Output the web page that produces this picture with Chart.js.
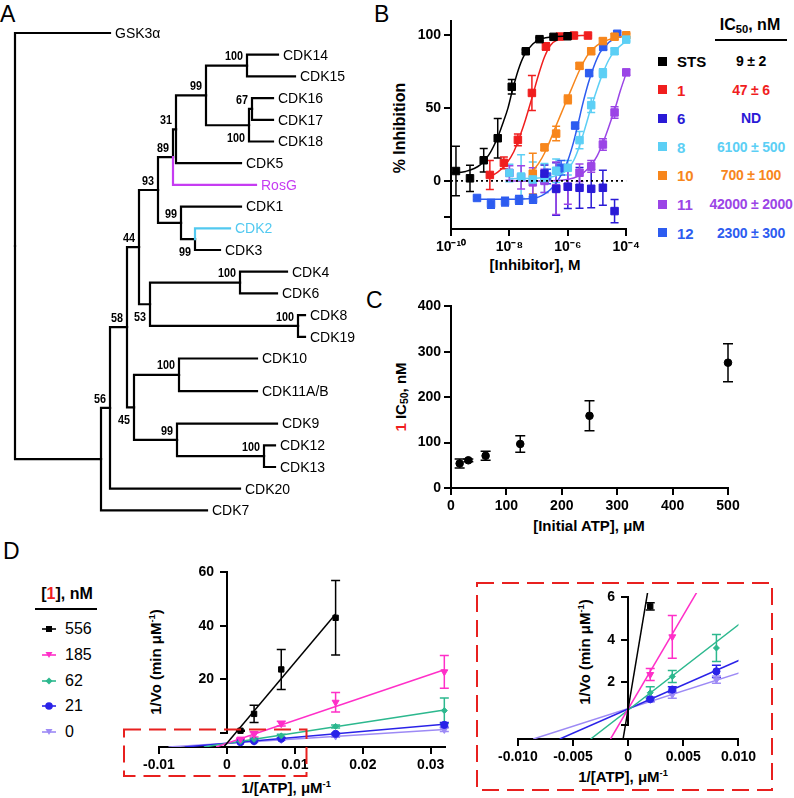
<!DOCTYPE html>
<html><head><meta charset="utf-8">
<script src="https://cdn.jsdelivr.net/npm/chart.js@4.4.1/dist/chart.umd.min.js"></script>
<style>
html,body{margin:0;padding:0;background:#fff;}
body{width:794px;height:798px;position:relative;overflow:hidden;font-family:"Liberation Sans",Arial,sans-serif;color:#000;}
canvas{position:absolute;}
.t{position:absolute;white-space:nowrap;line-height:1;}
.b{font-weight:bold;}
.rot{transform:translate(-50%,-50%) rotate(-90deg);}
.ctr{transform:translate(-50%,-50%);}
.lft{transform:translate(0,-50%);}
sub{font-size:70%;vertical-align:-0.25em;line-height:0;}
sup{font-size:62%;vertical-align:0.6em;line-height:0;}
</style></head><body>
<div class="t" style="left:0;top:3px;font-size:23px">A</div>
<div class="t" style="left:374px;top:3px;font-size:23px">B</div>
<div class="t" style="left:366px;top:289px;font-size:23px">C</div>
<div class="t" style="left:3px;top:540px;font-size:23px">D</div>

<div class="t b rot" style="left:400px;top:128px;font-size:16px">% Inhibition</div>
<div class="t b ctr" style="left:535px;top:264px;font-size:15px">[Inhibitor], M</div>
<div class="t b ctr" style="left:750px;top:25px;font-size:16px">IC<sub>50</sub>, nM</div>
<div style="position:absolute;left:715px;top:39px;width:72px;height:1.5px;background:#000"></div>
<div id="bleg"></div>

<div class="t b rot" style="left:400px;top:397px;font-size:15px"><span style="color:#f01e1e">1</span> IC<sub>50</sub>, nM</div>
<div class="t b ctr" style="left:589px;top:525px;font-size:15px">[Initial ATP], μM</div>

<div class="t b ctr" style="left:67px;top:594px;font-size:16px">[<span style="color:#f01e1e">1</span>], nM</div>
<div style="position:absolute;left:35px;top:608px;width:62px;height:1.5px;background:#000"></div>
<div id="dleg"></div>
<div class="t b rot" style="left:155px;top:662px;font-size:15px">1/Vo (min μM<sup>-1</sup>)</div>
<div class="t b ctr" style="left:286px;top:787px;font-size:15px">1/[ATP], μM<sup>-1</sup></div>
<div class="t b rot" style="left:584px;top:652px;font-size:15px">1/Vo (min μM<sup>-1</sup>)</div>
<div class="t b ctr" style="left:623px;top:776px;font-size:15px">1/[ATP], μM<sup>-1</sup></div>

<svg style="position:absolute;left:0;top:0;z-index:5;pointer-events:none" width="794" height="798">
<rect x="124" y="729.5" width="182.5" height="46.5" fill="none" stroke="#e8201f" stroke-width="2" stroke-dasharray="17 8"/>
<rect x="477" y="583" width="295" height="207" fill="none" stroke="#e8201f" stroke-width="2" stroke-dasharray="17 8"/>
</svg>

<script>
// ---------------- DATA ----------------
// Panel A: phylogenetic tree (node table)
const treeName   = ['','GSK3α','','CDK7','','CDK20','','','','','','','','','RosG','','CDK5','','','CDK14','CDK15','','CDK18','CDK16','CDK17','CDK1','','CDK2','CDK3','','','CDK4','CDK6','CDK8','CDK19','','','CDK10','CDK11A/B','CDK9','','CDK12','CDK13'];
const treeParent = [-1,0,0,2,2,4,4,6,6,7,7,9,9,11,11,13,13,15,15,17,17,18,18,21,21,12,12,26,26,10,10,29,29,30,30,8,8,35,35,36,36,40,40];
const treeDepth  = [0,95,86,192,95,225,112,124,119,143,135,158,166,161,241,191,226,232,234,263,280,237,258,258,258,226,180,215,205,225,283,272,262,290,290,164,162,242,242,262,249,260,260];
const treeRow    = [null,0,null,22,null,21,null,null,null,null,null,null,null,null,7,null,6,null,null,1,2,null,5,3,4,8,null,9,10,null,null,11,12,13,14,null,null,15,16.5,18,null,19,20];
const treeBoot   = [null,null,null,null,56,null,58,44,45,93,53,89,99,31,null,99,null,100,100,null,null,67,null,null,null,null,99,null,null,100,100,null,null,null,null,100,99,null,null,null,100,null,null];
const treeBootBelow = [8,10,18,26];
const treeHighlight = {'RosG':'#c63cf2','CDK2':'#52c9f0'};

// Panel B: dose response (log10 [inhibitor], M ; % inhibition)
const bNames  = ['STS','1','6','8','10','11','12'];
const bIC50   = ['9 ± 2','47 ± 6','ND','6100 ± 500','700 ± 100','42000 ± 2000','2300 ± 300'];
const bLogSTS = [-9.83,-9.35,-8.88,-8.40,-7.92,-7.44,-6.97,-6.49,-6.01];
const bSTS    = [6.8,1.8,14.2,29.3,64.6,89,97.3,98.9,99.3];
const bSTSsd  = [17,9,8,13.5,5,1,1,0.5,0.5];
const bLog1   = [-8.67,-8.19,-7.71,-7.23,-6.75,-6.27,-5.79,-5.31];
const b1      = [4.1,12.4,28.2,60.4,92.3,99.1,99.8,99.8];
const b1sd    = [10,4,4,12,2.5,0.5,0.5,0];
const bLog6   = [-6.8,-6.4,-6.0,-5.6,-5.2,-4.8,-4.4];
const b6      = [5,-5.5,-4,-4.7,-5.4,-4.7,-20.7];
const b6sd    = [6,18,15,14,13,12,8];
const bLog8   = [-8.0,-7.6,-7.2,-6.8,-6.4,-6.0,-5.6,-5.2,-4.8,-4.4,-4.0];
const b8      = [5.5,3,1,2,7,9,28,52,74,89,97];
const b8sd    = [6,15,12,10,8,5,6,5,3,2,1];
const bLog10  = [-7.2,-6.8,-6.4,-6.0,-5.6,-5.2,-4.8,-4.4,-4.0];
const b10     = [5,23,32.5,56,79,89,96,99,100];
const b10sd   = [14,2,5,3,2,2,2,2,1];
const bLog11  = [-8.0,-7.6,-7.2,-6.8,-6.4,-6.0,-5.6,-5.2,-4.8,-4.4,-4.0];
const b11     = [5.5,2.5,-1,0,-5,-4,5.6,10,25,47,74.5];
const b11sd   = [5,8,10,8,18,12,6,4,4,4,2];
const bLog12  = [-9.11,-8.63,-8.15,-7.67,-7.19,-6.71,-6.23,-5.75,-5.27,-4.79,-4.31];
const b12     = [-11.7,-15.8,-14.2,-13,-12.4,3,9,38,74,92,101];
const b12sd   = [1,3,3,3,3,5,5,2,2,2,1];
// fitted curves
const fitSTSx = [-10,-9.5,-9.0,-8.7,-8.4,-8.2,-8.05,-7.9,-7.7,-7.5,-7.2,-6.9,-6.5,-6.0];
const fitSTSy = [5.5,6.5,11,18,30,41,50,62,76,86,94,97.5,99,99.5];
const fit1x   = [-8.67,-8.4,-8.1,-7.85,-7.6,-7.45,-7.33,-7.2,-7.0,-6.8,-6.6,-6.3,-6.0,-5.31];
const fit1y   = [3,6,12,20,33,42,50,59,73,85,93,97.5,99,100];
const fit8x   = [-8.0,-7.0,-6.5,-6.2,-6.0,-5.8,-5.6,-5.4,-5.21,-5.0,-4.8,-4.6,-4.4,-4.0];
const fit8y   = [1.5,2,3,5,8,14,24,37,50,63,74,83,89,96];
const fit10x  = [-7.2,-7.0,-6.8,-6.6,-6.4,-6.15,-5.9,-5.6,-5.3,-5.0,-4.6,-4.0];
const fit10y  = [7,12,19,28,38,50,62,76,87,93,97,99.5];
const fit11x  = [-8.0,-7.0,-6.2,-5.8,-5.5,-5.2,-5.0,-4.8,-4.6,-4.38,-4.2,-4.0];
const fit11y  = [0,0,0.5,2,5,11,17,26,37,50,62,74];
const fit12x  = [-9.11,-8.0,-7.2,-6.8,-6.5,-6.2,-6.0,-5.8,-5.64,-5.5,-5.3,-5.1,-4.9,-4.6,-4.31];
const fit12y  = [-12.5,-12.5,-12,-9,-4,5,14,27,40,52,67,79,88,95,99];

// Panel C
const cATP  = [15.6,31.25,62.5,125,250,500];
const cIC50 = [54,61,71,97,159,276];
const cSD   = [10,3,10,18,33,42];

// Panel D: Lineweaver-Burk (1/[ATP], 1/Vo) for [1] = 556,185,62,21,0 nM
const dConc = ['556','185','62','21','0'];
const dX    = [0.002,0.004,0.008,0.016,0.032];
const d556  = [5.45,11.1,26,43.3,null];
const d556sd= [0.15,2.9,6.7,12.5,null];
const d185  = [2.65,4.2,7.8,15,25.2];
const d185sd= [0.25,0.88,0.8,3.3,5.5];
const d62   = [1.9,2.57,3.74,6.9,12.2];
const d62sd = [0.25,0.25,0.55,0.5,4.2];
const d21   = [1.64,2.03,2.78,4.4,7.4];
const d21sd = [0.08,0.12,0.25,0.3,0.8];
const d0    = [1.62,1.82,2.44,3.6,5.8];
const d0sd  = [0.1,0.15,0.15,0.3,0.6];
const dFitXInt = [-0.00046,-0.0016,-0.0034,-0.0062,-0.0086];
const dFitXEnd = [0.016,0.032,0.032,0.032,0.032];
const dFitYEnd = [44.6,25.9,12.4,7.6,5.9];

// ---------------- STYLE ----------------
const bColors = ['#000000','#f01e1e','#2a1ad6','#5ccff5','#f7861c','#9b45e6','#2d5cf0'];
const dColors = ['#000000','#ff2fc8','#2cb88e','#2a22e8','#9d8af5'];
const dShapes = ['rect','triangle','rectRot','circle','triangle'];
const dRot    = [0,180,0,0,180];
const dRad    = [3.8,4,3,3.6,3.8];

Chart.defaults.font.family = '"Liberation Sans", Arial, sans-serif';
Chart.defaults.color = '#000';

const errPlugin = {
  id:'errbars',
  beforeDatasetsDraw(chart){
    const ctx = chart.ctx, xs = chart.scales.x, ys = chart.scales.y;
    chart.data.datasets.forEach((ds,i)=>{
      if(!ds.errors) return;
      ctx.save(); ctx.strokeStyle = ds.borderColor; ctx.lineWidth = ds.errWidth||1.5;
      const cap = ds.cap||4;
      ds.data.forEach((p,j)=>{
        const e = ds.errors[j];
        if(e==null || p.y==null) return;
        if(p.x<xs.min||p.x>xs.max||p.y<ys.min||p.y>ys.max) return;
        const px = xs.getPixelForValue(p.x);
        const y1 = ys.getPixelForValue(Math.min(p.y+e, ys.max)), y2 = ys.getPixelForValue(p.y-e);
        ctx.beginPath(); ctx.moveTo(px,y1); ctx.lineTo(px,y2);
        if(p.y+e<=ys.max){ctx.moveTo(px-cap,y1); ctx.lineTo(px+cap,y1);}
        ctx.moveTo(px-cap,y2); ctx.lineTo(px+cap,y2); ctx.stroke();
      });
      ctx.restore();
    });
  }
};

function pts(xs, ys){ return xs.map((x,i)=>({x:x,y:ys[i]})).filter(p=>p.y!=null); }
const TF = {color:'#000',font:{size:14,weight:'bold'},padding:3,autoSkip:false,maxRotation:0};
function axisStyle(extra, tickExtra){
  return Object.assign({
    grid:{display:true,drawOnChartArea:false,drawTicks:true,tickLength:7,color:'#000',lineWidth:2},
    border:{display:true,color:'#000',width:2},
    ticks:Object.assign({},TF,tickExtra||{})
  }, extra);
}
function mk(area, m, cfg){
  const c = document.createElement('canvas');
  const W = Math.round(area.R-area.L+m.l+m.r), H = Math.round(area.B-area.T+m.t+m.b);
  c.width=W; c.height=H; c.style.width=W+'px'; c.style.height=H+'px';
  c.style.left=(area.L-m.l)+'px'; c.style.top=(area.T-m.t)+'px';
  document.body.appendChild(c);
  cfg.options = cfg.options||{};
  cfg.options.responsive=false; cfg.options.animation=false; cfg.options.devicePixelRatio=1;
  cfg.options.plugins = Object.assign({legend:{display:false},tooltip:{enabled:false}}, cfg.options.plugins||{});
  const sc = cfg.options.scales||{};
  const yShown = sc.y && sc.y.display!==false;
  const xShown = sc.x && sc.x.display!==false;
  cfg.options.layout={padding:{left:yShown?0:m.l,right:m.r,top:m.t,bottom:xShown?0:m.b}};
  if(xShown) sc.x.afterFit = s=>{s.height=m.b;};
  if(yShown) sc.y.afterFit = s=>{s.width=m.l;};
  const ch = new Chart(c, cfg);
  ch.$left = area.L-m.l; ch.$top = area.T-m.t;
  return ch;
}
function fixedTicks(vals){ return s=>{ s.ticks = vals.map(v=>({value:v})); }; }

// ---------------- PANEL A: tree ----------------
(function(){
  const ds = [];
  const yOf = i=>{
    if(treeRow[i]!=null) return treeRow[i];
    const ch = treeParent.map((p,k)=>p===i?k:-1).filter(k=>k>=0);
    return ch.reduce((a,k)=>a+yOf(k),0)/ch.length;
  };
  const Y = treeName.map((_,i)=>yOf(i));
  const colorOf = i=> treeHighlight[treeName[i]]||'#000';
  treeParent.forEach((p,i)=>{
    if(p<0) return;
    ds.push({type:'line',data:[{x:treeDepth[p],y:Y[p]},{x:treeDepth[p],y:Y[i]},{x:treeDepth[i],y:Y[i]}],
      borderColor:colorOf(i),borderWidth:2.2,pointRadius:0,fill:false,tension:0,borderCapStyle:'square',borderJoinStyle:'miter',order: colorOf(i)==='#000'?2:1});
  });
  const labelPlugin = {id:'treelabels', afterDatasetsDraw(chart){
    const ctx=chart.ctx, xs=chart.scales.x, ys=chart.scales.y;
    ctx.save(); ctx.textBaseline='middle';
    treeName.forEach((n,i)=>{
      const px=xs.getPixelForValue(treeDepth[i]), py=ys.getPixelForValue(Y[i]);
      if(n){ ctx.font='14px "Liberation Sans", Arial, sans-serif'; ctx.fillStyle=colorOf(i); ctx.textAlign='left'; ctx.fillText(n,px+5,py+1); }
      if(treeBoot[i]!=null){
        const below = treeBootBelow.includes(i);
        ctx.font='bold 13.5px "Liberation Sans", Arial, sans-serif'; ctx.fillStyle='#000'; ctx.textAlign='right';
        ctx.save(); ctx.translate(px-4, py+(below?13:-9)); ctx.scale(0.8,1); ctx.fillText(String(treeBoot[i]),0,0); ctx.restore();
      }
    });
    ctx.restore();
  }};
  mk({L:0,R:380,T:0,B:530},{l:0,r:0,t:0,b:0},{
    type:'scatter', data:{datasets:ds},
    options:{scales:{
      x:{type:'linear',display:false,min:-15,max:365},
      y:{type:'linear',display:false,reverse:true,min:-33/21.7,max:(530-33)/21.7}
    }},
    plugins:[labelPlugin]
  });
})();

// ---------------- PANEL B ----------------
(function(){
  const series = [
    [bLogSTS,bSTS,bSTSsd,fitSTSx,fitSTSy],
    [bLog1,b1,b1sd,fit1x,fit1y],
    [bLog6,b6,b6sd,null,null],
    [bLog8,b8,b8sd,fit8x,fit8y],
    [bLog10,b10,b10sd,fit10x,fit10y],
    [bLog11,b11,b11sd,fit11x,fit11y],
    [bLog12,b12,b12sd,fit12x,fit12y]
  ];
  const ds=[{type:'line',data:[{x:-10,y:0},{x:-4,y:0}],borderColor:'#000',borderWidth:1.6,borderDash:[2,3],pointRadius:0}];
  series.forEach((s,i)=>{
    if(s[3]) ds.push({type:'line',data:pts(s[3],s[4]),borderColor:bColors[i],borderWidth:1.5,pointRadius:0,cubicInterpolationMode:'monotone'});
    ds.push({type:'scatter',data:pts(s[0],s[1]),errors:s[2],cap:4,errWidth:1.5,borderColor:bColors[i],backgroundColor:bColors[i],
      pointStyle:'rect',pointRadius:5.3,borderWidth:1,clip:false});
  });
  const sup = {'-10':'10⁻¹⁰','-8':'10⁻⁸','-6':'10⁻⁶','-4':'10⁻⁴'};
  mk({L:451,R:631,T:18,B:229},{l:50,r:12,t:8,b:30},{
    type:'scatter', data:{datasets:ds},
    options:{scales:{
      x:axisStyle({type:'linear',min:-10,max:-4,afterBuildTicks:fixedTicks([-10,-8,-6,-4])},{callback:v=>sup[String(v)]||''}),
      y:axisStyle({type:'linear',min:-33,max:109.5,afterBuildTicks:fixedTicks([-25,0,50,100])},{callback:v=>v<0?'':String(v)})
    }},
    plugins:[errPlugin]
  });
  const lg=document.getElementById('bleg');
  bNames.forEach((n,i)=>{
    const y=61+i*28.6;
    lg.insertAdjacentHTML('beforeend',
      `<div style="position:absolute;left:658px;top:${y-4.5}px;width:9px;height:9px;background:${bColors[i]}"></div>`+
      `<div class="t b lft" style="left:677px;top:${y}px;font-size:15px;color:${bColors[i]}">${n}</div>`+
      `<div class="t b ctr" style="left:751px;top:${y}px;font-size:14px;letter-spacing:-0.2px;color:${bColors[i]}">${bIC50[i]}</div>`);
  });
})();

// ---------------- PANEL C ----------------
mk({L:451,R:728,T:303,B:488},{l:50,r:15,t:8,b:24},{
  type:'scatter',
  data:{datasets:[{data:pts(cATP,cIC50),errors:cSD,cap:5,errWidth:1.5,borderColor:'#000',backgroundColor:'#000',pointRadius:3.8,clip:false}]},
  options:{scales:{
    x:axisStyle({type:'linear',min:0,max:500},{stepSize:100}),
    y:axisStyle({type:'linear',min:0,max:400},{stepSize:100})
  }},
  plugins:[errPlugin]
});

// ---------------- PANEL D ----------------
function dDatasets(clipPts){
  const vals=[d556,d185,d62,d21,d0], sds=[d556sd,d185sd,d62sd,d21sd,d0sd];
  const ds=[];
  vals.forEach((v,i)=>{
    ds.push({type:'line',data:[{x:dFitXInt[i],y:0},{x:dFitXEnd[i],y:dFitYEnd[i]}],borderColor:dColors[i],borderWidth:1.5,pointRadius:0,order:2});
    ds.push({type:'scatter',data:pts(dX,v),errors:sds[i],cap:4.5,errWidth:1.5,borderColor:dColors[i],backgroundColor:dColors[i],
      pointStyle:dShapes[i],rotation:dRot[i],pointRadius:dRad[i],borderWidth:1,clip:clipPts?undefined:false,order:1});
  });
  return ds;
}
// y axis drawn by a second chart whose plot area starts at x = 0 of the main chart
function yAxisAt(mainChart, area, yMin, yMax, yTicks, m){
  const x0 = Math.round(mainChart.$left + mainChart.scales.x.getPixelForValue(0));
  return mk({L:x0,R:area.R,T:area.T,B:area.B},m,{
    type:'scatter', data:{datasets:[]},
    options:{scales:{
      x:{type:'linear',display:false,min:0,max:1},
      y:axisStyle({type:'linear',min:yMin,max:yMax,afterBuildTicks:fixedTicks(yTicks)},{padding:6,callback:v=>v===0?'':String(v)})
    }}
  });
}
const dArea = {L:146,R:445,T:568,B:747};
const dMain = mk(dArea,{l:6,r:12,t:10,b:26},{
  type:'scatter', data:{datasets:dDatasets(false)},
  options:{scales:{
    x:axisStyle({type:'linear',min:-0.01,max:0.0321,afterBuildTicks:fixedTicks([-0.01,0,0.01,0.02,0.03])},{callback:v=>v===0?'0':(Math.round(v*100)/100).toString()}),
    y:{type:'linear',display:false,min:0,max:60}
  }},
  plugins:[errPlugin]
});
yAxisAt(dMain, dArea, 0, 60, [0,20,40,60], {l:40,r:0,t:10,b:0});

const iArea = {L:501,R:747,T:593,B:739};
const dInset = mk(iArea,{l:6,r:12,t:10,b:26},{
  type:'scatter', data:{datasets:dDatasets(true)},
  options:{scales:{
    x:axisStyle({type:'linear',min:-0.01,max:0.01,afterBuildTicks:fixedTicks([-0.01,-0.005,0,0.005,0.01])},{callback:v=>v===0?'0':v.toFixed(3)}),
    y:{type:'linear',display:false,min:0,max:6}
  }},
  plugins:[errPlugin]
});
yAxisAt(dInset, iArea, 0, 6, [0,2,4,6], {l:30,r:0,t:10,b:0});

// D legend
(function(){
  const lg=document.getElementById('dleg');
  dConc.forEach((n,i)=>{
    const y=629+i*25.8;
    const c=dColors[i]; let mark='';
    if(dShapes[i]==='rect') mark=`<rect x="10" y="3" width="6" height="6" fill="${c}"/>`;
    else if(dShapes[i]==='triangle') mark=`<polygon points="9.5,3 16.5,3 13,9" fill="${c}"/>`;
    else if(dShapes[i]==='rectRot') mark=`<polygon points="13,2.5 16.5,6 13,9.5 9.5,6" fill="${c}"/>`;
    else mark=`<circle cx="13" cy="6" r="3.8" fill="${c}"/>`;
    lg.insertAdjacentHTML('beforeend',
      `<svg style="position:absolute;left:36px;top:${y-6}px" width="26" height="12"><line x1="6" y1="6" x2="20" y2="6" stroke="${c}" stroke-width="1.6"/>${mark}</svg>`+
      `<div class="t lft" style="left:65px;top:${y}px;font-size:16px">${n}</div>`);
  });
})();
</script>
</body></html>
